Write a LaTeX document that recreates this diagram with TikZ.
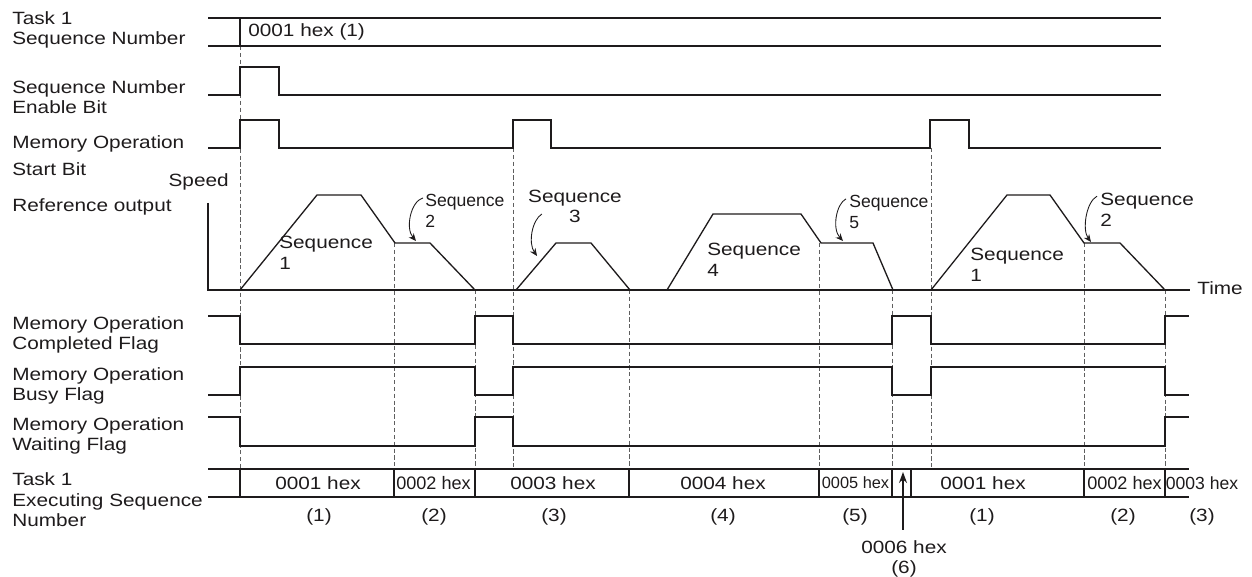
\documentclass[tikz,border=0pt]{standalone}
\usepackage{fontspec}
\setmainfont{Liberation Sans}[FakeStretch=1.17]
\newfontfamily\narrowfont{Liberation Sans}
\usetikzlibrary{arrows.meta}
\definecolor{inkblack}{RGB}{30,27,28}
\definecolor{guidegray}{RGB}{95,95,95}
\tikzset{
  wave/.style={line width=0.75pt, inkblack, line join=miter},
  guide/.style={line width=0.5pt, guidegray, dash pattern=on 2.4pt off 1.5pt},
  sig/.style={font=\fontsize{10.1}{11.7}\selectfont, text=inkblack, align=left, anchor=west, inner sep=0pt},
  seqsmall/.style={sig, font=\narrowfont\fontsize{10}{11.7}\selectfont},
  val/.style={font=\fontsize{10.1}{11.7}\selectfont, text=inkblack, inner sep=0pt, align=center},
  valsmall/.style={val, font=\narrowfont\fontsize{#1}{11.7}\selectfont},
  curl/.style={-{Stealth[length=1.5mm,width=1.3mm]}, line width=0.5pt, inkblack},
  pointer/.style={-{Stealth[length=2.2mm,width=1.6mm]}, line width=0.7pt, inkblack},
}
\begin{document}
\begin{tikzpicture}[x=0.02cm, y=-0.02cm]
\useasboundingbox (0,0) rectangle (1252,577);

% signal names
\node[sig] (lseq) at (12,30) {Task 1\\Sequence Number};
\node[sig] (lenable) at (12,97) {Sequence Number\\Enable Bit};
\node[sig] (lstart) at (12,156) {Memory Operation\\[0.13cm]Start Bit};
\node[sig] (lref) at (12,207) {Reference output};
\node[sig] (ldone) at (12,335) {Memory Operation\\Completed Flag};
\node[sig] (lbusy) at (12,386) {Memory Operation\\Busy Flag};
\node[sig] (lwait) at (12,436) {Memory Operation\\Waiting Flag};
\node[sig] (lexec) at (12,500) {Task 1\\Executing Sequence\\Number};
\node[sig, anchor=east] (lspeed) at (229,182) {Speed};
\node[sig] (ltime) at (1197,288) {Time};

% guide lines
\foreach \x/\y in {240/46, 394/243, 475/290, 513/148, 629/290, 819/243, 892/290, 931/148, 1084/243, 1165/290}
  \draw[guide] (\x,\y) -- (\x,469);

% sequence number
\draw[wave] (208,18) -- (1161,18);
\draw[wave] (208,46) -- (1161,46);
\draw[wave] (240,18) -- (240,46);
\node[sig] (hexset) at (248,32) {0001 hex (1)};

% enable bit and start bit
\draw[wave] (208,95) -- (240,95) -- (240,67) -- (279,67) -- (279,95) -- (1161,95);
\draw[wave] (208,148) -- (240,148) -- (240,120) -- (279,120) -- (279,148) -- (513,148)
  -- (513,120) -- (551,120) -- (551,148) -- (930,148) -- (930,120) -- (969,120) -- (969,148) -- (1161,148);

% speed profile
\draw[wave] (208,203) -- (208,290) -- (1190,290);
\draw[wave] (240,290) -- (317,195) -- (361,195) -- (395,243) -- (430,243) -- (475,290);
\draw[wave] (516,290) -- (556,243) -- (591,243) -- (630,290);
\draw[wave] (667,290) -- (713,214) -- (801,214) -- (821,243) -- (873,243) -- (893,290);
\draw[wave] (931,290) -- (1007,195) -- (1050,195) -- (1084,243) -- (1120,243) -- (1165,290);

\node[sig] (s1a) at (279,253) {Sequence\\1};
\node[seqsmall] (s2a) at (425,210.7) {Sequence\\2};
\node[val] (s3) at (575,206.5) {Sequence\\3};
\node[sig] (s4) at (707,259.7) {Sequence\\4};
\node[seqsmall] (s5) at (849,211.7) {Sequence\\5};
\node[sig] (s1b) at (970,265) {Sequence\\1};
\node[sig] (s2b) at (1100,210) {Sequence\\2};

\coordinate (c2a) at (416,241);
\coordinate (c3) at (537,256);
\coordinate (c5) at (843,241);
\coordinate (c2b) at (1091,242);
\draw[curl] ([shift={(-2,4)}]s2a.north west) .. controls (411,201) and (405,228) .. (c2a);
\draw[curl] ([shift={(14,7.5)}]s3.west) .. controls (532,220) and (528,243) .. (c3);
\draw[curl] ([shift={(-3,4)}]s5.north west) .. controls (836,204) and (832,229) .. (c5);
\draw[curl] ([shift={(-3,3)}]s2b.north west) .. controls (1086,202) and (1082,230) .. (c2b);

% flags
\draw[wave] (208,316) -- (240,316) -- (240,344) -- (475,344) -- (475,316) -- (513,316) -- (513,344)
  -- (892,344) -- (892,316) -- (931,316) -- (931,344) -- (1165,344) -- (1165,316) -- (1189,316);
\draw[wave] (208,395) -- (240,395) -- (240,367) -- (475,367) -- (475,395) -- (513,395) -- (513,367)
  -- (892,367) -- (892,395) -- (931,395) -- (931,367) -- (1165,367) -- (1165,395) -- (1189,395);
\draw[wave] (208,417) -- (240,417) -- (240,446) -- (475,446) -- (475,417) -- (513,417) -- (513,446)
  -- (1165,446) -- (1165,417) -- (1189,417);

% executing sequence number
\draw[wave] (208,469) -- (1189,469);
\draw[wave] (208,497) -- (1189,497);
\foreach \x in {240,394,475,629,819,892,911,1084,1165}
  \draw[wave] (\x,469) -- (\x,497);

\node[val] (ex1) at (318,483) {0001 hex};
\node[valsmall=10.3] (ex2) at (433.5,483) {0002 hex};
\node[val] (ex3) at (553,483) {0003 hex};
\node[val] (ex4) at (723,483) {0004 hex};
\node[valsmall=9.3] (ex5) at (855.5,483) {0005 hex};
\node[val] (ex1b) at (983,483) {0001 hex};
\node[valsmall=10.3] (ex2b) at (1124.5,483) {0002 hex};
\node[valsmall=10] (ex3b) at (1202,483) {0003 hex};

\foreach \x/\n in {319/1, 434/2, 554/3, 723/4, 855/5, 982/1, 1123/2, 1202/3}
  \node[val] (num\x) at (\x,516.7) {(\n)};

\node[val, anchor=north] (hex6) at (904,540) {0006 hex\\(6)};
\coordinate (hex6tip) at (903,472);
\draw[pointer] ([shift={(-1,-10)}]hex6.north) -- (hex6tip);
\end{tikzpicture}
\end{document}
